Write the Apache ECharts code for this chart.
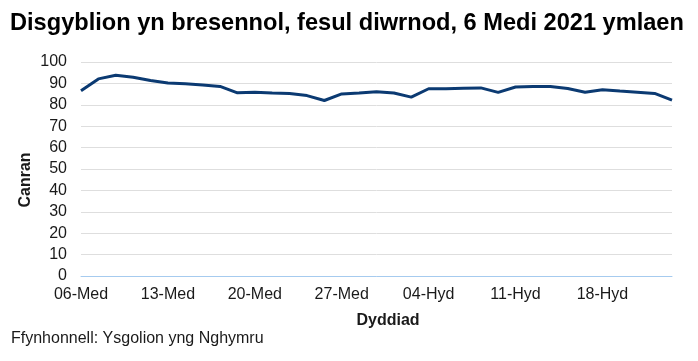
<!DOCTYPE html>
<html>
<head>
<meta charset="utf-8">
<script src="https://cdn.jsdelivr.net/npm/echarts@6/dist/echarts.min.js"></script>
<style>html,body{margin:0;padding:0;background:#fff}#c{width:698px;height:361px}</style>
</head>
<body>
<div id="c"></div>
<script>
const categories = [
  '06-Med','07-Med','08-Med','09-Med','10-Med',
  '13-Med','14-Med','15-Med','16-Med','17-Med',
  '20-Med','21-Med','22-Med','23-Med','24-Med',
  '27-Med','28-Med','29-Med','30-Med','01-Hyd',
  '04-Hyd','05-Hyd','06-Hyd','07-Hyd','08-Hyd',
  '11-Hyd','12-Hyd','13-Hyd','14-Hyd','15-Hyd',
  '18-Hyd','19-Hyd','20-Hyd','21-Hyd','22-Hyd'
];
const attendance = [
  86.6, 92.1, 93.8, 92.9, 91.4,
  90.2, 89.8, 89.3, 88.6, 85.6,
  85.9, 85.5, 85.3, 84.3, 82.0,
  85.1, 85.5, 86.1, 85.5, 83.6,
  87.5, 87.5, 87.7, 87.9, 85.8,
  88.3, 88.6, 88.6, 87.6, 85.9,
  87.0, 86.4, 85.9, 85.3, 82.2
];
const yTicks = [0,10,20,30,40,50,60,70,80,90,100];
const titleText = 'Disgyblion yn bresennol, fesul diwrnod, 6 Medi 2021 ymlaen';
const yName = 'Canran';
const xName = 'Dyddiad';
const sourceText = 'Ffynhonnell: Ysgolion yng Nghymru';

const FONT = '"Liberation Sans", Arial, sans-serif';
const chart = echarts.init(document.getElementById('c'), null, {renderer: 'canvas'});
chart.setOption({
  animation: false,
  backgroundColor: '#fff',
  title: {
    text: titleText, left: 5, top: 6,
    textStyle: {fontFamily: FONT, fontSize: 23.6, fontWeight: 'bold', color: '#000'}
  },
  grid: {left: 81, right: 26, top: 62, bottom: 85, containLabel: false},
  xAxis: {
    type: 'category', data: categories, boundaryGap: false,
    axisLine: {show: true, lineStyle: {color: '#a6cbef', width: 1}},
    axisTick: {show: false},
    axisLabel: {
      interval: function (i) { return i % 5 === 0 && i <= 30; },
      fontFamily: FONT, fontSize: 16, color: '#1a1a1a', margin: 11
    },
    splitLine: {show: false}
  },
  yAxis: {
    type: 'value', min: yTicks[0], max: yTicks[yTicks.length - 1], interval: 10,
    axisLine: {show: false}, axisTick: {show: false},
    axisLabel: {fontFamily: FONT, fontSize: 16, color: '#1a1a1a', margin: 14},
    splitLine: {lineStyle: {color: '#dedede', width: 1}}
  },
  series: [{
    type: 'line', data: attendance, symbol: 'none', smooth: false,
    lineStyle: {color: '#0b3a72', width: 3}
  }],
  graphic: [
    {type: 'text', x: 11, y: 339,
     style: {text: sourceText, font: '16px ' + FONT, fill: '#1a1a1a', verticalAlign: 'middle'}},
    {type: 'text', x: 388, y: 321,
     style: {text: xName, font: 'bold 16px ' + FONT, fill: '#1a1a1a', align: 'center', verticalAlign: 'middle'}},
    {type: 'text', x: 26, y: 180, rotation: Math.PI / 2,
     style: {text: yName, font: 'bold 16px ' + FONT, fill: '#1a1a1a', align: 'center', verticalAlign: 'middle'}}
  ]
});
</script>
</body>
</html>
